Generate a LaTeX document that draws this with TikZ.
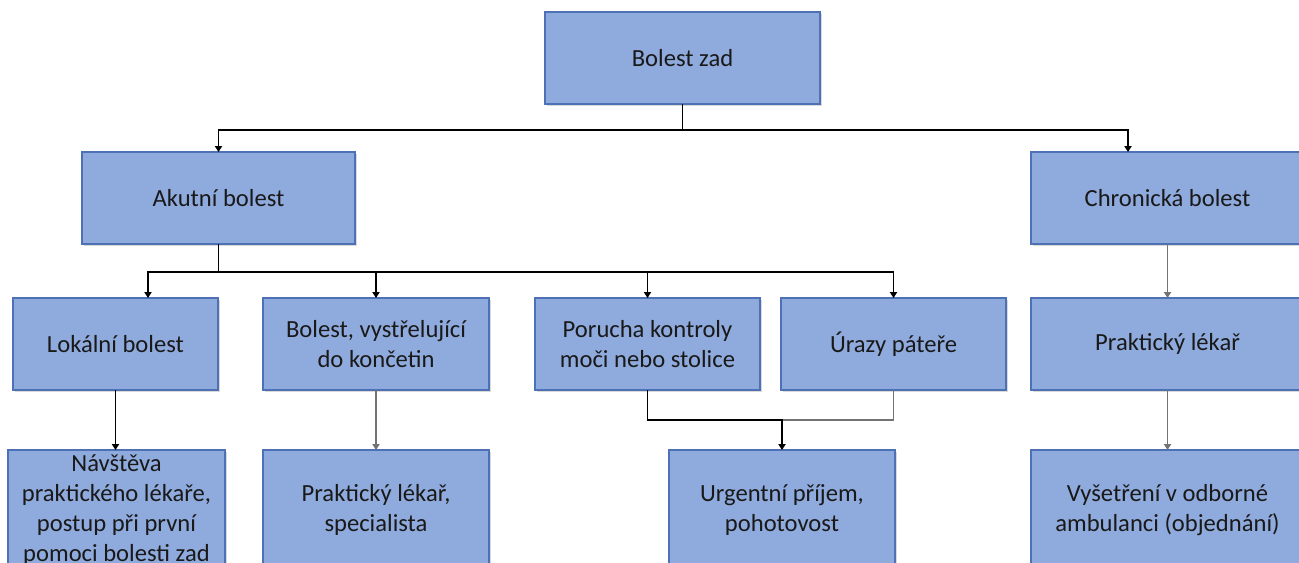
\documentclass[tikz,border=0pt]{standalone}
\usepackage{fontspec}
\setmainfont{Carlito}
\usetikzlibrary{
  positioning,
  arrows.meta,
  shadows
}

\definecolor{boxFill}{RGB}{143,170,220}
\definecolor{boxLine}{RGB}{78,112,180}

\begin{document}
\begin{tikzpicture}[
    x=0.5pt,y=-0.5pt,
    boxNode/.style={draw=boxLine,fill=boxFill,line width=0.6pt,anchor=north west,
      inner sep=0pt,outer sep=0pt,align=center,minimum height=46pt,
      font=\fontsize{12.3}{15}\selectfont,text=black!90,
      drop shadow={shadow xshift=0.8pt,shadow yshift=-0.8pt,opacity=0.3}},
    tallNode/.style={boxNode,minimum height=60pt},
    arrowLine/.style={-{Triangle[width=3.6pt,length=3pt]},line width=0.7pt,black},
    greyArrow/.style={arrowLine,black!55},
    greyLine/.style={-,line width=0.7pt,black!55}
  ]
    \path[use as bounding box,clip] (0,0) rectangle (1299,562);

    % top levels
    \node[boxNode,minimum width=137.5pt] (zad) at (545,12) {Bolest zad};
    \node[boxNode,minimum width=136.5pt] (akut) at (82,152) {Akutní bolest};
    \node[boxNode,minimum width=136.5pt] (chron) at (1031,152) {Chronická bolest};

    % second row
    \node[boxNode,minimum width=102.5pt] (lok) at (13,298) {Lokální bolest};
    \node[boxNode,minimum width=113pt] (vyst) at (263,298) {Bolest, vystřelující\\do končetin};
    \node[boxNode,minimum width=112.5pt] (poru) at (535,298) {Porucha kontroly\\moči nebo stolice};
    \node[boxNode,minimum width=112.5pt] (uraz) at (781,298) {Úrazy páteře};
    \node[boxNode,minimum width=136.5pt] (prakt) at (1031,298) {Praktický lékař};

    % third row
    \node[tallNode,minimum width=108.5pt] (navst) at (8,450) {Návštěva\\praktického lékaře,\\postup při první\\pomoci bolesti zad};
    \node[tallNode,minimum width=113pt] (spec) at (263,450) {Praktický lékař,\\specialista};
    \node[tallNode,minimum width=113pt] (urg) at (669,450) {Urgentní příjem,\\pohotovost};
    \node[tallNode,minimum width=136.5pt] (vys) at (1031,450) {Vyšetření v odborné\\ambulanci (objednání)};

    \coordinate (chronIn) at (1128,152);
    \coordinate (lokIn) at (148,298);

    % connectors
    \draw[arrowLine] (zad.south) -- ++(0,26) -| (akut.north);
    \draw[arrowLine] (zad.south) -- ++(0,26) -| (chronIn);
    \draw[arrowLine] (akut.south) -- ++(0,28) -| (lokIn);
    \draw[arrowLine] (akut.south) -- ++(0,28) -| (vyst.north);
    \draw[arrowLine] (akut.south) -- ++(0,28) -| (poru.north);
    \draw[arrowLine] (akut.south) -- ++(0,28) -| (uraz.north);
    \draw[greyArrow] (chron.south) -- (prakt.north);
    \draw[arrowLine] (lok.south) -- (lok.south |- navst.north);
    \draw[greyArrow] (vyst.south) -- (spec.north);
    \draw[greyLine] (uraz.south) -- ++(0,30) -| (urg.north);
    \draw[arrowLine] (poru.south) -- ++(0,30) -| (urg.north);
    \draw[greyArrow] (prakt.south) -- (vys.north);
\end{tikzpicture}
\end{document}
